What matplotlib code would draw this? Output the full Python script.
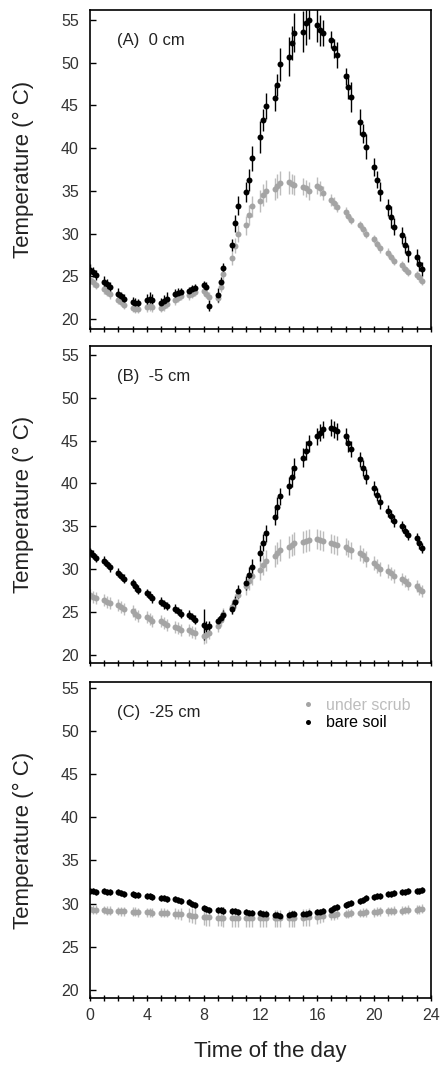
import matplotlib
matplotlib.use('Agg')
import matplotlib.pyplot as plt
from matplotlib.lines import Line2D
from matplotlib.ticker import MultipleLocator

plt.rcParams['font.family'] = ['Liberation Sans', 'DejaVu Sans']

# time stamps were logged as HH.MM (00, 20, 40 min) and plotted as decimals
hours = [h + m for h in range(24) for m in (0.0, 0.2, 0.4)]

# (A) 0 cm
bare0 = [25.8, 25.5, 25.2, 24.4, 24.1, 23.8, 23.0, 22.7, 22.4, 22.0, 21.9, 21.9,
         22.3, 22.4, 22.3, 21.9, 22.1, 22.4, 23.0, 23.1, 23.2, 23.3, 23.5, 23.6,
         24.0, 23.8, 21.6, 22.8, 24.3, 26.0, 28.7, 31.2, 33.3, 34.9, 36.3, 38.8,
         41.3, 43.3, 44.9, 45.9, 47.4, 49.8, 50.7, 52.3, 53.5, 53.6, 54.6, 55.0,
         54.4, 53.8, 53.5, 52.7, 51.7, 50.9, 48.4, 47.2, 46.0, 43.1, 41.7, 40.2,
         37.8, 36.3, 34.9, 33.1, 32.0, 30.8, 29.8, 28.7, 27.7, 27.3, 26.5, 25.9]
bare0_err = [0.7, 0.6, 0.6, 0.6, 0.6, 0.6, 0.6, 0.5, 0.5, 0.6, 0.6, 0.5,
             0.6, 0.8, 0.6, 0.6, 0.7, 0.8, 0.5, 0.5, 0.5, 0.5, 0.5, 0.5,
             0.5, 0.5, 0.6, 0.8, 0.6, 0.6, 0.7, 1.0, 1.1, 1.2, 1.3, 1.5,
             1.9, 1.3, 1.5, 1.5, 1.3, 1.9, 2.3, 2.0, 2.3, 2.4, 2.5, 2.2,
             2.0, 1.8, 1.5, 1.0, 1.1, 1.5, 1.0, 1.5, 1.8, 1.5, 1.1, 1.5,
             1.0, 1.0, 1.1, 1.0, 1.3, 1.0, 1.0, 1.0, 1.0, 0.9, 0.8, 0.8]
scrub0 = [24.6, 24.3, 24.0, 23.5, 23.2, 22.9, 22.3, 22.0, 21.7, 21.3, 21.2, 21.2,
          21.4, 21.5, 21.4, 21.3, 21.5, 21.8, 22.2, 22.5, 22.7, 22.8, 23.0, 23.2,
          23.3, 23.0, 22.6, 22.5, 23.8, 25.3, 27.2, 28.6, 30.0, 31.0, 32.2, 33.2,
          33.8, 34.5, 35.0, 35.2, 35.6, 35.9, 36.0, 35.8, 35.7, 35.5, 35.3, 35.0,
          35.6, 35.3, 34.8, 34.0, 33.6, 33.1, 32.6, 32.1, 31.6, 31.0, 30.5, 30.0,
          29.4, 28.8, 28.3, 27.8, 27.3, 26.8, 26.3, 25.9, 25.5, 25.2, 24.9, 24.5]
scrub0_err = [0.5, 0.5, 0.5, 0.5, 0.5, 0.5, 0.5, 0.5, 0.5, 0.5, 0.5, 0.5,
              0.5, 0.5, 0.5, 0.5, 0.5, 0.5, 0.5, 0.5, 0.5, 0.5, 0.5, 0.5,
              0.5, 0.5, 0.6, 0.6, 0.6, 0.7, 0.8, 0.9, 1.0, 1.1, 1.2, 1.2,
              1.3, 1.3, 1.3, 1.3, 1.4, 1.4, 1.3, 1.2, 1.2, 1.0, 1.0, 1.0,
              1.0, 0.9, 0.8, 0.7, 0.7, 0.6, 0.5, 0.5, 0.5, 0.5, 0.5, 0.5,
              0.5, 0.5, 0.5, 0.5, 0.5, 0.5, 0.5, 0.5, 0.5, 0.5, 0.5, 0.5]

# (B) -5 cm
bare5 = [32.0, 31.7, 31.3, 31.0, 30.6, 30.2, 29.6, 29.2, 28.9, 28.4, 28.0, 27.6,
         27.2, 26.9, 26.6, 26.2, 25.9, 25.7, 25.4, 25.1, 24.8, 24.7, 24.4, 24.1,
         23.5, 23.3, 23.4, 23.9, 24.3, 24.7, 25.4, 26.2, 27.4, 28.4, 29.3, 30.3,
         31.9, 33.1, 34.2, 36.1, 37.3, 38.5, 39.7, 40.8, 41.8, 43.0, 43.8, 44.7,
         45.5, 45.9, 46.3, 46.5, 46.3, 46.1, 45.5, 44.7, 44.0, 42.8, 41.8, 40.8,
         39.5, 38.7, 37.8, 36.8, 36.2, 35.6, 35.0, 34.5, 34.0, 33.6, 33.0, 32.5]
bare5_err = [0.5, 0.5, 0.5, 0.5, 0.5, 0.5, 0.5, 0.5, 0.5, 0.5, 0.5, 0.5,
             0.5, 0.5, 0.5, 0.5, 0.5, 0.5, 0.5, 0.5, 0.5, 0.5, 0.5, 0.5,
             1.8, 0.6, 0.6, 0.5, 0.5, 0.5, 0.6, 0.7, 0.8, 0.8, 0.9, 0.9,
             0.9, 1.0, 1.0, 1.0, 1.1, 1.0, 1.1, 1.2, 1.2, 1.1, 1.1, 1.0,
             1.0, 1.0, 1.0, 1.0, 1.0, 1.0, 1.0, 1.0, 0.9, 0.9, 0.9, 0.9,
             0.8, 0.8, 0.8, 0.7, 0.7, 0.7, 0.6, 0.6, 0.6, 0.6, 0.6, 0.6]
scrub5 = [27.0, 26.8, 26.6, 26.4, 26.2, 26.0, 25.8, 25.6, 25.4, 25.1, 24.8, 24.5,
          24.4, 24.2, 24.0, 23.9, 23.7, 23.5, 23.3, 23.1, 22.9, 22.9, 22.7, 22.5,
          22.2, 22.3, 22.6, 23.4, 24.1, 24.8, 25.6, 26.3, 27.0, 28.0, 28.6, 29.2,
          29.9, 30.5, 31.0, 31.5, 31.9, 32.2, 32.6, 32.8, 33.0, 33.2, 33.3, 33.4,
          33.5, 33.4, 33.3, 33.0, 32.9, 32.8, 32.6, 32.4, 32.2, 31.9, 31.6, 31.2,
          30.7, 30.4, 30.0, 29.8, 29.5, 29.2, 28.9, 28.6, 28.3, 28.0, 27.7, 27.4]
scrub5_err = [0.7, 0.7, 0.7, 0.7, 0.7, 0.7, 0.7, 0.7, 0.7, 0.7, 0.7, 0.7,
              0.7, 0.7, 0.7, 0.7, 0.7, 0.7, 0.7, 0.7, 0.7, 0.7, 0.7, 0.7,
              0.9, 0.9, 0.8, 0.7, 0.7, 0.7, 0.8, 0.8, 0.8, 1.0, 1.0, 1.0,
              1.2, 1.2, 1.2, 1.3, 1.3, 1.3, 1.3, 1.3, 1.3, 1.3, 1.3, 1.3,
              1.2, 1.2, 1.2, 1.1, 1.1, 1.1, 1.0, 1.0, 1.0, 0.9, 0.9, 0.9,
              0.8, 0.8, 0.8, 0.8, 0.8, 0.8, 0.7, 0.7, 0.7, 0.7, 0.7, 0.7]

# (C) -25 cm
bare25 = [31.5, 31.5, 31.4, 31.5, 31.4, 31.3, 31.3, 31.2, 31.1, 31.1, 31.0, 31.0,
          30.9, 30.9, 30.8, 30.7, 30.6, 30.5, 30.5, 30.4, 30.3, 30.2, 30.0, 29.8,
          29.5, 29.4, 29.3, 29.3, 29.25, 29.2, 29.1, 29.1, 29.0, 29.0, 28.95, 28.9,
          28.9, 28.85, 28.8, 28.7, 28.65, 28.6, 28.7, 28.75, 28.8, 28.8, 28.85, 28.9,
          29.0, 29.05, 29.1, 29.3, 29.45, 29.6, 29.8, 29.95, 30.1, 30.3, 30.45, 30.6,
          30.8, 30.85, 30.9, 31.1, 31.15, 31.2, 31.35, 31.4, 31.45, 31.5, 31.5, 31.55]
bare25_err = [0.35, 0.35, 0.35, 0.35, 0.35, 0.35, 0.35, 0.35, 0.35, 0.35, 0.35, 0.35,
              0.35, 0.35, 0.35, 0.35, 0.35, 0.35, 0.35, 0.35, 0.35, 0.35, 0.35, 0.35,
              0.35, 0.35, 0.35, 0.35, 0.35, 0.35, 0.35, 0.35, 0.35, 0.35, 0.35, 0.35,
              0.35, 0.35, 0.35, 0.35, 0.35, 0.35, 0.35, 0.35, 0.35, 0.35, 0.35, 0.35,
              0.35, 0.35, 0.35, 0.35, 0.35, 0.35, 0.35, 0.35, 0.35, 0.35, 0.35, 0.35,
              0.35, 0.35, 0.35, 0.35, 0.35, 0.35, 0.35, 0.35, 0.35, 0.35, 0.35, 0.35]
scrub25 = [29.35, 29.3, 29.3, 29.25, 29.2, 29.2, 29.15, 29.1, 29.1, 29.05, 29.05, 29.0,
           29.0, 29.0, 28.95, 28.95, 28.95, 28.9, 28.85, 28.8, 28.75, 28.65, 28.6, 28.55,
           28.5, 28.45, 28.4, 28.35, 28.35, 28.3, 28.3, 28.3, 28.3, 28.3, 28.3, 28.3,
           28.3, 28.3, 28.3, 28.3, 28.3, 28.3, 28.3, 28.3, 28.3, 28.35, 28.4, 28.45,
           28.5, 28.55, 28.6, 28.65, 28.7, 28.75, 28.8, 28.85, 28.9, 28.9, 28.95, 29.0,
           29.0, 29.05, 29.1, 29.1, 29.15, 29.2, 29.2, 29.25, 29.3, 29.3, 29.35, 29.4]
scrub25_err = [0.5, 0.5, 0.5, 0.5, 0.5, 0.5, 0.5, 0.5, 0.5, 0.5, 0.5, 0.5,
               0.5, 0.5, 0.5, 0.5, 0.5, 0.5, 0.6, 0.6, 0.7, 0.8, 0.9, 0.9,
               1.0, 1.0, 1.0, 1.0, 1.0, 1.0, 1.0, 1.0, 1.0, 1.0, 1.0, 1.0,
               1.0, 1.0, 1.0, 1.0, 1.0, 1.0, 1.0, 1.0, 1.0, 1.0, 1.0, 1.0,
               0.9, 0.8, 0.7, 0.6, 0.6, 0.5, 0.5, 0.5, 0.5, 0.5, 0.5, 0.5,
               0.5, 0.5, 0.5, 0.5, 0.5, 0.5, 0.5, 0.5, 0.5, 0.5, 0.5, 0.5]

panels = [
    ('(A)  0 cm', bare0, bare0_err, scrub0, scrub0_err, (18.85, 56.15)),
    ('(B)  -5 cm', bare5, bare5_err, scrub5, scrub5_err, (19.05, 56.05)),
    ('(C)  -25 cm', bare25, bare25_err, scrub25, scrub25_err, (19.05, 55.7)),
]
# axes boxes in figure fractions [left, bottom, width, height]
boxes = [[0.204, 0.691, 0.773, 0.2995],
         [0.204, 0.3775, 0.773, 0.2977],
         [0.204, 0.0629, 0.773, 0.2967]]

GREY = '#a4a4a4'
GREY_ERR = '#bcbcbc'
MS = 4.3

fig = plt.figure(figsize=(4.41, 10.65), dpi=100)

for i, (label, bare, bare_err, scrub, scrub_err, ylim) in enumerate(panels):
    ax = fig.add_axes(boxes[i])
    ax.errorbar(hours, scrub, yerr=scrub_err, fmt='o', ms=MS, color=GREY,
                ecolor=GREY_ERR, elinewidth=1.0, capsize=2.0, capthick=1.0,
                markeredgewidth=0)
    ax.errorbar(hours, bare, yerr=bare_err, fmt='o', ms=MS, color='black',
                ecolor='black', elinewidth=1.0, capsize=2.0, capthick=1.0,
                markeredgewidth=0)
    ax.set_xlim(0, 24)
    ax.set_ylim(*ylim)
    ax.xaxis.set_major_locator(MultipleLocator(4))
    ax.xaxis.set_minor_locator(MultipleLocator(1))
    ax.set_yticks([20, 25, 30, 35, 40, 45, 50, 55])
    ax.tick_params(axis='x', which='both', direction='inout', length=4.5,
                   width=1.0, labelsize=11.5, pad=5, labelcolor='#333333')
    ax.tick_params(axis='y', direction='in', length=4, width=1.0,
                   labelsize=11.5, pad=8, labelcolor='#333333')
    for sp in ax.spines.values():
        sp.set_linewidth(1.2)
    ax.set_ylabel('Temperature (° C)', fontsize=16, color='#222222')
    ax.yaxis.set_label_coords(-0.165, 0.5)
    ax.text(0.08, 0.905, label, transform=ax.transAxes, fontsize=12,
            ha='left', va='center', color='#222222')
    if i < 2:
        ax.tick_params(axis='x', labelbottom=False)
    else:
        ax.set_xlabel('Time of the day', fontsize=16, color='#222222')
        ax.xaxis.set_label_coords(0.53, -0.135)
        handles = [Line2D([], [], ls='none', marker='o', ms=3.6, color=GREY,
                          markeredgewidth=0),
                   Line2D([], [], ls='none', marker='o', ms=3.6, color='black',
                          markeredgewidth=0)]
        ax.legend(handles, ['under scrub', 'bare soil'], loc='upper left',
                  bbox_to_anchor=(0.57, 0.995), frameon=False, fontsize=11.5,
                  handlelength=1.2, handletextpad=0.5, labelspacing=0.15,
                  labelcolor=['#bdbdbd', 'black'])

fig.savefig('out.png', dpi=100)
plt.close(fig)
